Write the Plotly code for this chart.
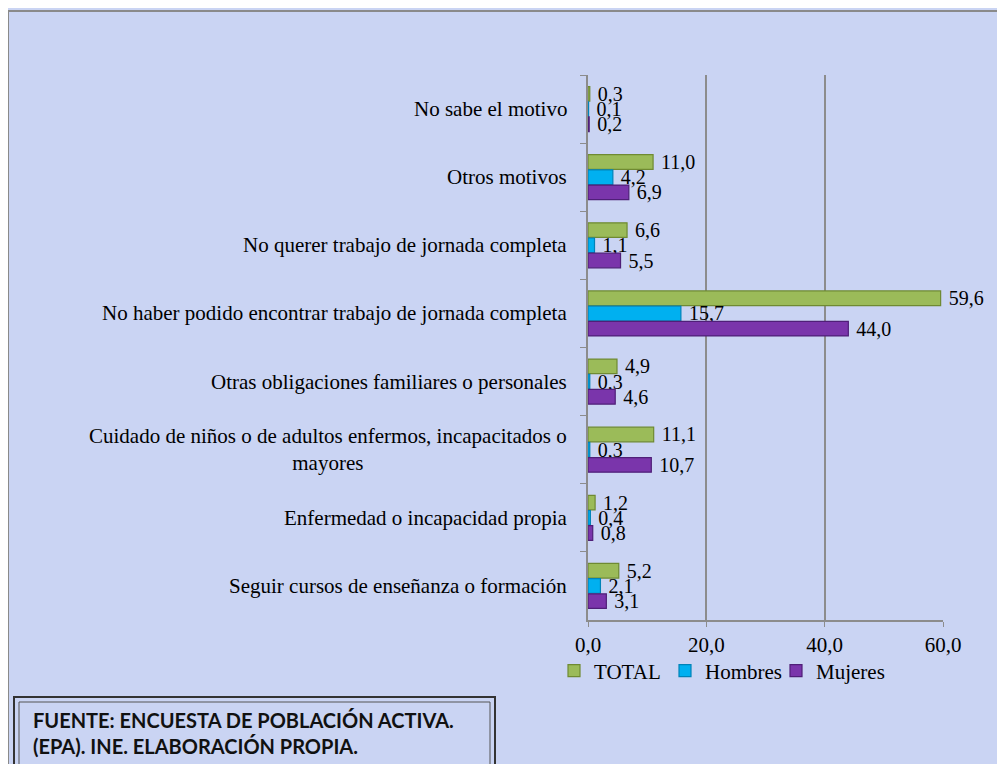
import plotly.graph_objects as go

# the page puts the figure 8px in from the top-left corner
OFF = 8
W, H = 1005 - OFF, 764 - OFF
# plot area in reference pixels
PL, PR, PT, PB = 588, 943, 75, 620

categories = [
    "No sabe el motivo",
    "Otros motivos",
    "No querer trabajo de jornada completa",
    "No haber podido encontrar trabajo de jornada completa",
    "Otras obligaciones familiares o personales",
    "Cuidado de niños o de adultos enfermos, incapacitados o<br>mayores",
    "Enfermedad o incapacidad propia",
    "Seguir cursos de enseñanza o formación",
]
total = [0.3, 11.0, 6.6, 59.6, 4.9, 11.1, 1.2, 5.2]
hombres = [0.1, 4.2, 1.1, 15.7, 0.3, 0.3, 0.4, 2.1]
mujeres = [0.2, 6.9, 5.5, 44.0, 4.6, 10.7, 0.8, 3.1]

series = [
    ("TOTAL", total, "#9bbb59", "#6f8a32"),
    ("Hombres", hombres, "#00b0f0", "#0083b8"),
    ("Mujeres", mujeres, "#7a35ab", "#4f1f78"),
]


def px_x(p):
    return (p - PL) / (PR - PL)


def px_y(p):
    return (PB - p) / (PB - PT)


serif = "Liberation Serif, Times New Roman, serif"

fig = go.Figure()
for name, vals, col, edge in series:
    fig.add_trace(go.Bar(
        y=categories,
        x=vals,
        name=name,
        orientation="h",
        marker=dict(color=col, line=dict(color=edge, width=1.2)),
        texttemplate=" %{x:.1f}",
        textposition="outside",
        constraintext="none",
        textfont=dict(family=serif, size=20, color="black"),
        cliponaxis=False,
    ))

# category labels as annotations so the wrapped one is centred
for cat in categories:
    fig.add_annotation(
        x=px_x(569), xref="paper", y=cat, yref="y",
        text=cat, showarrow=False, xanchor="right", align="center",
        font=dict(family=serif, size=21, color="black"),
    )

shapes = [
    # grey frame
    dict(type="line", xref="paper", yref="paper", x0=px_x(8), x1=px_x(1010),
         y0=px_y(11), y1=px_y(11), line=dict(color="#8a8a8a", width=2)),
    dict(type="line", xref="paper", yref="paper", x0=px_x(8), x1=px_x(8),
         y0=px_y(11), y1=px_y(780), line=dict(color="#8a8a8a", width=2)),
    # footnote box, double border
    dict(type="rect", xref="paper", yref="paper", x0=px_x(14), x1=px_x(495),
         y0=px_y(790), y1=px_y(697), line=dict(color="#333333", width=2)),
    dict(type="rect", xref="paper", yref="paper", x0=px_x(19), x1=px_x(490),
         y0=px_y(790), y1=px_y(702), line=dict(color="#555555", width=1)),
]

fig.add_annotation(
    x=px_x(31), xref="paper", y=px_y(706), yref="paper",
    text="FUENTE: ENCUESTA DE POBLACIÓN ACTIVA.<br>(EPA). INE. ELABORACIÓN PROPIA.",
    showarrow=False, xanchor="left", yanchor="top", align="left",
    font=dict(family="Lato, Noto Sans, sans-serif", size=20, color="#111111", weight="bold"),
)

fig.update_layout(
    width=W, height=H,
    margin=dict(l=PL - OFF, r=1005 - PR, t=PT - OFF, b=764 - PB),
    paper_bgcolor="#cad4f3",
    plot_bgcolor="rgba(0,0,0,0)",
    separators=",.",
    barmode="group",
    bargap=0.33,
    bargroupgap=0.04,
    shapes=shapes,
    legend=dict(
        orientation="h", x=px_x(554), y=px_y(671), xanchor="left", yanchor="middle",
        font=dict(family=serif, size=21, color="black"),
        bgcolor="rgba(0,0,0,0)", itemwidth=30,
        entrywidth=66, entrywidthmode="pixels",
    ),
    xaxis=dict(
        range=[0, 60], tickvals=[0, 20, 40, 60], tickformat=".1f",
        showgrid=True, gridcolor="#8c8c8c", gridwidth=1.5,
        showline=True, linecolor="#8c8c8c", linewidth=1.5,
        ticks="outside", ticklen=5, tickcolor="#8c8c8c",
        tickfont=dict(family=serif, size=21, color="black"),
        zeroline=False,
    ),
    yaxis=dict(
        autorange="reversed", showticklabels=False,
        showline=True, linecolor="#8c8c8c", linewidth=1.5,
        ticks="outside", ticklen=6, tickcolor="#8c8c8c", tickson="boundaries",
        showgrid=False,
    ),
)

fig.write_html("out.html")
